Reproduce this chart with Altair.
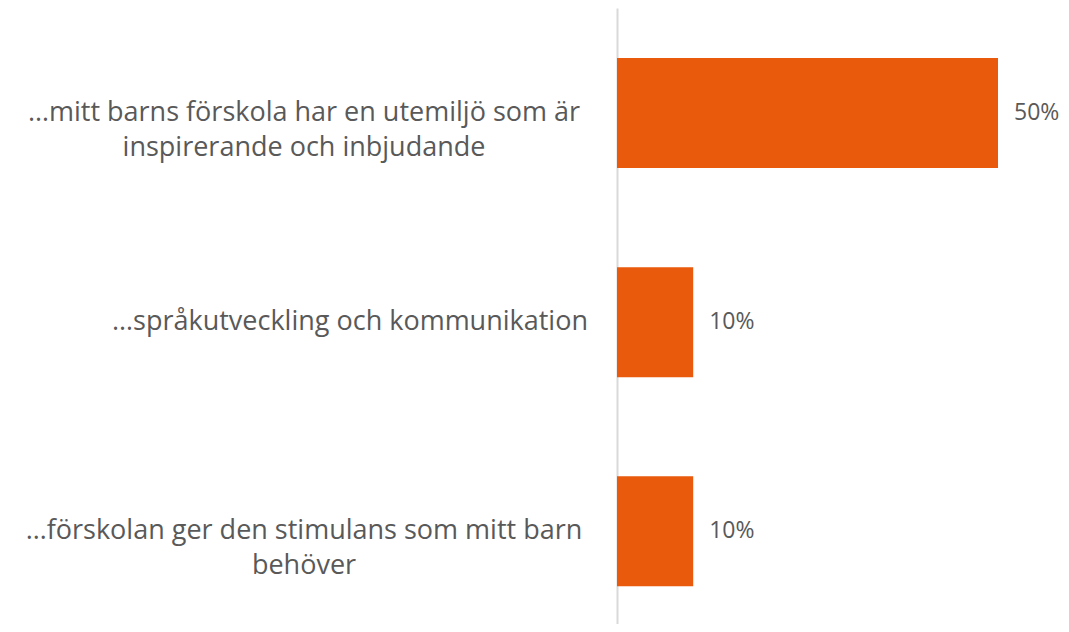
import altair as alt
import pandas as pd

categories = [
    "…mitt barns förskola har en utemiljö som är\ninspirerande och inbjudande",
    "…språkutveckling och kommunikation",
    "…förskolan ger den stimulans som mitt barn\nbehöver",
]
values = [0.50, 0.10, 0.10]
value_labels = ["50%", "10%", "10%"]

df = pd.DataFrame({
    "cat": categories,
    "val": values,
    "lab": value_labels,
    "multi": ["\n" in c for c in categories],
})

FONT = "Open Sans"
TXT = "#595959"
ORANGE = "#E95A0C"

y = alt.Y("cat:N", sort=categories,
          scale=alt.Scale(paddingInner=0.474, paddingOuter=0.21, align=0.57),
          axis=alt.Axis(title=None, labels=False, ticks=False, grid=False,
                        domainColor="#D9D9D9", domainWidth=2))
x = alt.X("val:Q", scale=alt.Scale(domain=[0, 0.5], nice=False, zero=True),
          axis=None)

base = alt.Chart(df)

bars = base.mark_bar(color=ORANGE).encode(x=x, y=y)

vals = base.mark_text(align="left", baseline="middle", dx=16, font=FONT,
                      fontSize=23, color=TXT).encode(x=x, y=y, text="lab:N")

lab_multi = base.transform_filter("datum.multi").mark_text(
    align="center", baseline="middle", font=FONT, fontSize=27, color=TXT,
    lineBreak="\n", lineHeight=35).encode(
    y=y, x=alt.value(-313), text="cat:N")

lab_single = base.transform_filter("!datum.multi").mark_text(
    align="right", baseline="middle", font=FONT, fontSize=27, color=TXT,
    lineBreak="\n", lineHeight=35).encode(
    y=y, x=alt.value(-29), text="cat:N")

chart = alt.layer(bars, vals, lab_multi, lab_single).properties(
    width=381, height=616,
    autosize=alt.AutoSizeParams(type="none"),
    padding={"left": 609, "top": 0, "right": 62, "bottom": 0},
).configure_view(stroke=None)

chart.save("out.html", embed_options={"renderer": "svg", "actions": False})
